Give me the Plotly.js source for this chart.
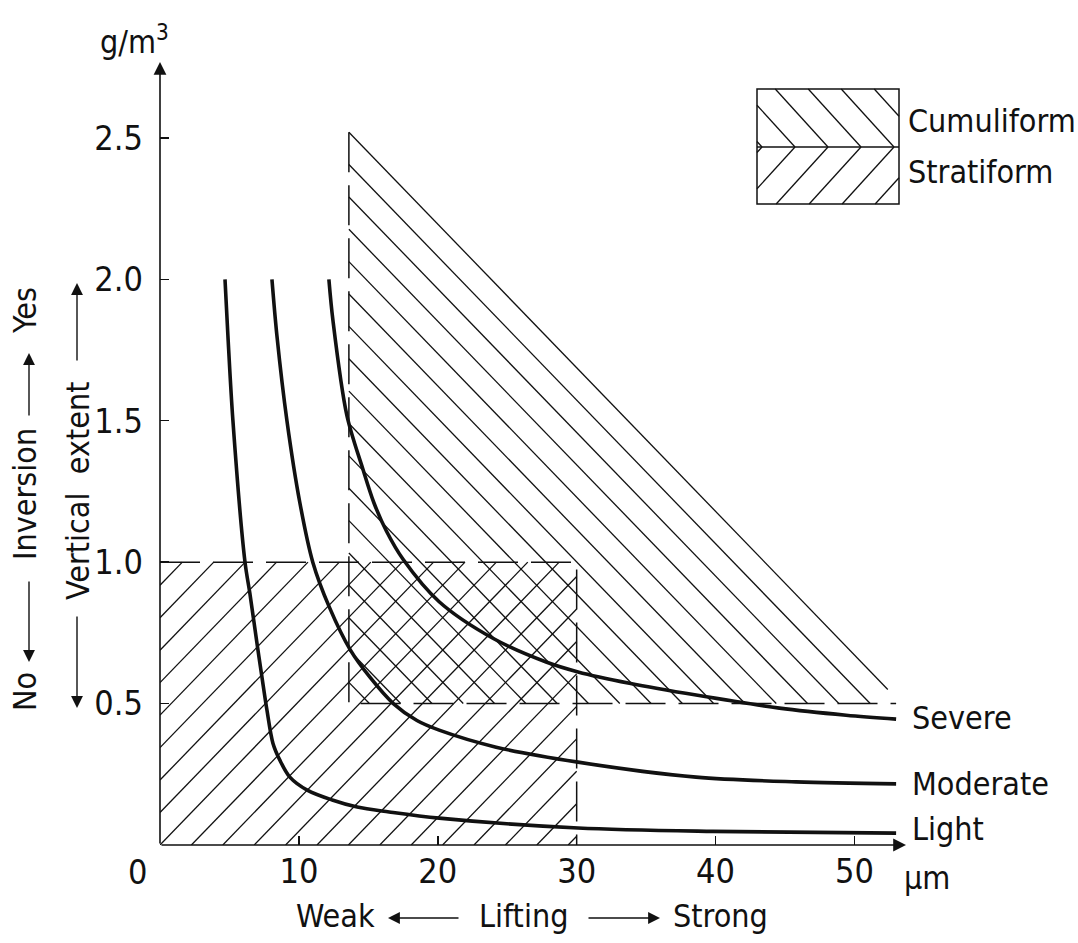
<!DOCTYPE html>
<html><head><meta charset="utf-8">
<script src="https://cdn.plot.ly/plotly-3.0.1.min.js"></script>
<style>html,body{margin:0;padding:0;background:#fff;}#chart{width:1078px;height:943px;}</style>
</head><body><div id="chart"></div>
<script>
// ---------------- data ----------------
const lightX    = [4.68, 4.89, 5.25, 6.12, 6.47, 6.98, 7.34, 7.70, 8.13, 8.63, 9.35, 10.6, 12.4, 14.2, 16.5, 20.1, 30.1, 39.8, 53.0];
const lightY    = [2.00, 1.80, 1.50, 1.00, 0.89, 0.714, 0.594, 0.477, 0.36, 0.30, 0.24, 0.194, 0.159, 0.134, 0.117, 0.095, 0.060, 0.048, 0.042];
const moderateX = [8.06, 8.42, 9.14, 10.07, 11.0, 12.2, 13.7, 15.1, 16.8, 18.5, 20.1, 24.2, 30.1, 38.6, 45.8, 53.0];
const moderateY = [2.00, 1.80, 1.50, 1.21, 1.00, 0.84, 0.69, 0.594, 0.50, 0.44, 0.406, 0.346, 0.293, 0.240, 0.223, 0.216];
const severeX   = [12.16, 12.45, 13.45, 14.6, 15.4, 16.3, 17.5, 20.1, 24.0, 27.8, 30.1, 33.8, 38.6, 44.6, 49.4, 53.0];
const severeY   = [2.00, 1.855, 1.52, 1.33, 1.21, 1.11, 1.01, 0.860, 0.730, 0.647, 0.612, 0.572, 0.530, 0.484, 0.459, 0.445];

// regions
const stratiformX = [0, 30];          // x extent
const stratiformY = [0, 1.0];         // y extent
const cumuliformX = [13.6, 53.0];     // left edge, end of bottom edge
const cumuliformY = [0.5, 2.52];      // bottom, apex
const cumuliformSlopeEnd = [52.4, 0.55]; // end of the sloping top edge

const curveNames = ['Severe', 'Moderate', 'Light'];
const xTickVals = [10, 20, 30, 40, 50];
const xTickText = ['10', '20', '30', '40', '50'];
const yTickVals = [0.5, 1.0, 1.5, 2.0, 2.5];
const yTickText = ['0.5', '1.0', '1.5', '2.0', '2.5'];

// ---------------- layout geometry ----------------
const FIG_W = 1078, FIG_H = 943;
const L = 160, B = 98, T = 53, PW = 750, PH = 792;
const R = FIG_W - L - PW;
const XR = [0, 54], YR = [0, 2.8];
const kx = PW / (XR[1] - XR[0]), ky = PH / (YR[1] - YR[0]);
const INK = '#111';
const FONT_TXT = '"DejaVu Sans Condensed", "Liberation Sans Narrow", "DejaVu Sans", sans-serif';
const FONT_NUM = '"Liberation Sans Narrow", "DejaVu Sans Condensed", sans-serif';

// hatch lines v - m*u = c (pixel-space u,v), clipped to a convex polygon in data coords
function hatch(poly, m, s, cRef, cMax) {
  const P = poly.map(([x, y]) => [x * kx, y * ky]);
  const f = p => p[1] - m * p[0];
  const vals = P.map(f);
  const lo = Math.min(...vals), hi = Math.max(...vals);
  const dc = Math.abs(m) * s;
  const xs = [], ys = [];
  const kmin = Math.ceil((lo - cRef) / dc - 1e-9), kmax = Math.floor((hi - cRef) / dc + 1e-9);
  for (let k = kmin; k <= kmax; k++) {
    const c = cRef + k * dc;
    if (cMax !== undefined && c > cMax + 1e-6) continue;
    const pts = [];
    for (let i = 0; i < P.length; i++) {
      const a = P[i], b = P[(i + 1) % P.length];
      const fa = f(a) - c, fb = f(b) - c;
      if ((fa <= 0 && fb >= 0) || (fa >= 0 && fb <= 0)) {
        if (fa === fb) continue;
        const t = fa / (fa - fb);
        pts.push([a[0] + t * (b[0] - a[0]), a[1] + t * (b[1] - a[1])]);
      }
    }
    if (pts.length < 2) continue;
    pts.sort((p, q) => p[0] - q[0]);
    const p1 = pts[0], p2 = pts[pts.length - 1];
    if (Math.hypot(p2[0] - p1[0], p2[1] - p1[1]) < 1) continue;
    xs.push(p1[0] / kx, p2[0] / kx, null);
    ys.push(p1[1] / ky, p2[1] / ky, null);
  }
  return { xs, ys };
}

// stratiform: "/" hatch over the rectangle, one line through the origin
const mStrat = 1.034;
const stratPoly = [[stratiformX[0], stratiformY[0]], [stratiformX[1], stratiformY[0]],
                   [stratiformX[1], stratiformY[1]], [stratiformX[0], stratiformY[1]]];
const hs = hatch(stratPoly, mStrat, 31.4, 0);

// cumuliform: "\" hatch parallel to the sloping top edge
const apexU = cumuliformX[0] * kx, apexV = cumuliformY[1] * ky;
const mCum = (cumuliformSlopeEnd[1] * ky - apexV) / (cumuliformSlopeEnd[0] * kx - apexU);
const c0 = apexV - mCum * apexU;
const cumPoly = [[cumuliformX[0], cumuliformY[0]], [cumuliformSlopeEnd[0], cumuliformY[0]],
                 [cumuliformSlopeEnd[0], cumuliformY[1]], [cumuliformX[0], cumuliformY[1]]];
const hc = hatch(cumPoly, mCum, 31.3, c0, c0);

const traces = [
  { x: hs.xs, y: hs.ys, mode: 'lines', line: { color: INK, width: 1.3 }, hoverinfo: 'skip' },
  { x: hc.xs, y: hc.ys, mode: 'lines', line: { color: INK, width: 1.3 }, hoverinfo: 'skip' },
  { x: [stratiformX[0], stratiformX[1], stratiformX[1]], y: [stratiformY[1], stratiformY[1], stratiformY[0]],
    mode: 'lines', line: { color: INK, width: 1.5, dash: '40px,13px' }, hoverinfo: 'skip' },
  { x: [cumuliformX[0], cumuliformX[0], cumuliformX[1]], y: [cumuliformY[1], cumuliformY[0], cumuliformY[0]],
    mode: 'lines', line: { color: INK, width: 1.5, dash: '40px,13px' }, hoverinfo: 'skip' },
  { x: severeX, y: severeY, name: curveNames[0], mode: 'lines', line: { color: INK, width: 3.6, shape: 'spline', smoothing: 0.9 } },
  { x: moderateX, y: moderateY, name: curveNames[1], mode: 'lines', line: { color: INK, width: 3.6, shape: 'spline', smoothing: 0.9 } },
  { x: lightX, y: lightY, name: curveNames[2], mode: 'lines', line: { color: INK, width: 3.6, shape: 'spline', smoothing: 0.9 } }
];

// ---------------- annotations ----------------
const px = x => (x - L) / PW;
const py = y => (FIG_H - B - y) / PH;
function txt(text, x, y, opts = {}) {
  return Object.assign({ xref: 'paper', yref: 'paper', x: px(x), y: py(y), text, showarrow: false,
    xanchor: 'center', yanchor: 'middle', font: { family: FONT_TXT, size: 32, color: INK } }, opts);
}
function arrow(tipX, tipY, tailX, tailY, w = 1.5, size = 1.3) {
  return { xref: 'paper', yref: 'paper', x: px(tipX), y: py(tipY), ax: tailX - tipX, ay: tailY - tipY,
    text: '', showarrow: true, arrowhead: 2, arrowsize: size, arrowwidth: w, arrowcolor: INK, standoff: 0 };
}
const annotations = [
  // axes with arrowheads
  arrow(906, 845, 160, 845, 1.6, 1.6),
  arrow(160, 62, 160, 845, 1.6, 1.6),
  // axis units
  txt('g/m<sup>3</sup>', 134, 40),
  txt('\u00b5m', 927, 878),
  txt('0', 137, 872, { font: { family: FONT_NUM, size: 34, color: INK } }),
  // bottom
  txt('Weak', 335, 916), arrow(388, 918, 460, 918, 1.4, 1.7),
  txt('Lifting', 523, 916), arrow(660, 918, 587, 918, 1.4, 1.7),
  txt('Strong', 720, 916),
  // left column 1
  txt('Yes', 25, 311, { textangle: -90 }), arrow(29, 353, 29, 417, 1.4, 1.7),
  txt('Inversion', 25, 494, { textangle: -90 }), arrow(29, 662, 29, 580, 1.4, 1.7),
  txt('No', 25, 692, { textangle: -90 }),
  // left column 2
  arrow(77, 283, 77, 362, 1.4, 1.7),
  txt('Vertical  extent', 78, 491, { textangle: -90 }),
  arrow(77, 708, 77, 615, 1.4, 1.7),
  // curve labels
  txt(curveNames[0], 910, 718, { xanchor: 'left' }),
  txt(curveNames[1], 910, 784, { xanchor: 'left' }),
  txt(curveNames[2], 910, 829, { xanchor: 'left' }),
  // legend labels
  txt('Cumuliform', 906, 121, { xanchor: 'left' }),
  txt('Stratiform', 906, 172, { xanchor: 'left' })
];

// ---------------- legend box (paper shapes) ----------------
function clipSeg(x1, y1, x2, y2, xmin, xmax, ymin, ymax) {
  let t0 = 0, t1 = 1; const dx = x2 - x1, dy = y2 - y1;
  const p = [-dx, dx, -dy, dy], q = [x1 - xmin, xmax - x1, y1 - ymin, ymax - y1];
  for (let i = 0; i < 4; i++) {
    if (p[i] === 0) { if (q[i] < 0) return null; }
    else { const r = q[i] / p[i]; if (p[i] < 0) { if (r > t1) return null; if (r > t0) t0 = r; } else { if (r < t0) return null; if (r < t1) t1 = r; } }
  }
  return [x1 + t0 * dx, y1 + t0 * dy, x1 + t1 * dx, y1 + t1 * dy];
}
const LB = { x0: 757, x1: 899, y0: 89, y1: 204, ym: 147 };
const shapes = [
  { type: 'rect', xref: 'paper', yref: 'paper', x0: px(LB.x0), x1: px(LB.x1), y0: py(LB.y0), y1: py(LB.y1), line: { color: INK, width: 1.5 } },
  { type: 'line', xref: 'paper', yref: 'paper', x0: px(LB.x0), x1: px(LB.x1), y0: py(LB.ym), y1: py(LB.ym), line: { color: INK, width: 1.4 } }
];
const slopeL = 1.1;
for (let k = 0; k < 7; k++) {
  const xm = 762 + 33 * k;
  const segs = [
    clipSeg(xm, LB.ym, xm - 80 / slopeL, LB.ym - 80, LB.x0, LB.x1, LB.y0, LB.ym),
    clipSeg(xm, LB.ym, xm - 80 / slopeL, LB.ym + 80, LB.x0, LB.x1, LB.ym, LB.y1)
  ];
  segs.forEach(s => {
    if (!s) return;
    if (Math.hypot(s[2] - s[0], s[3] - s[1]) < 1) return;
    shapes.push({ type: 'line', xref: 'paper', yref: 'paper', x0: px(s[0]), y0: py(s[1]), x1: px(s[2]), y1: py(s[3]), line: { color: INK, width: 1.3 } });
  });
}

const layout = {
  width: FIG_W, height: FIG_H,
  margin: { l: L, r: R, t: T, b: B, pad: 0 },
  paper_bgcolor: '#fff', plot_bgcolor: '#fff',
  showlegend: false,
  xaxis: { range: XR, showgrid: false, zeroline: false, showline: false, ticks: 'inside', ticklen: 9, tickwidth: 1.5, tickcolor: INK,
    tickvals: xTickVals, ticktext: xTickText, tickfont: { family: FONT_NUM, size: 34, color: INK }, ticklabelstandoff: 3, fixedrange: true },
  yaxis: { range: YR, showgrid: false, zeroline: false, showline: false, ticks: 'inside', ticklen: 9, tickwidth: 1.5, tickcolor: INK,
    tickvals: yTickVals, ticktext: yTickText, tickfont: { family: FONT_NUM, size: 34, color: INK }, ticklabelstandoff: 16, fixedrange: true },
  annotations, shapes
};

Plotly.newPlot('chart', traces, layout, { displayModeBar: false, staticPlot: true });
</script></body></html>
